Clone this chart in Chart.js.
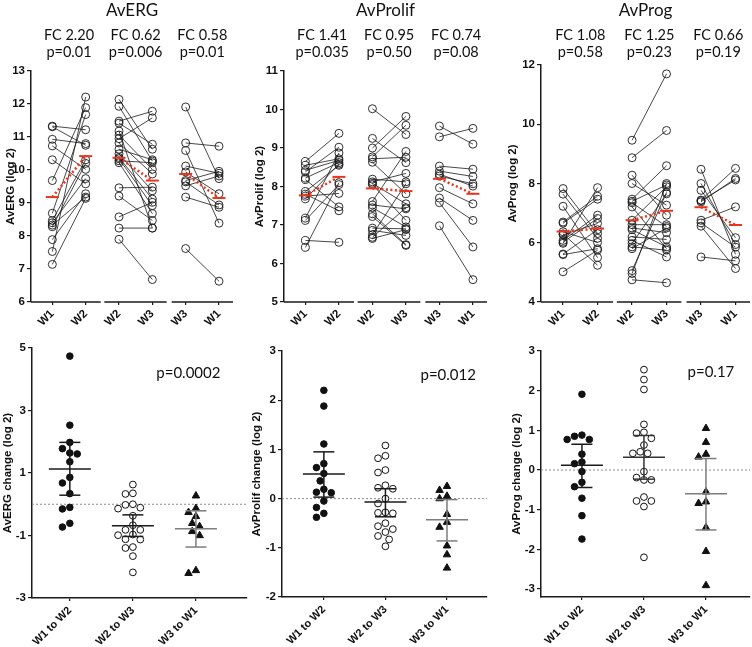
<!DOCTYPE html>
<html lang="en">
<head>
<meta charset="utf-8">
<title>AvERG / AvProlif / AvProg</title>
<script src="https://cdn.jsdelivr.net/npm/chart.js@4.4.1/dist/chart.umd.min.js"></script>
<style>
  body { margin: 0; background: #fff; }
  #fig { position: relative; width: 752px; height: 647px; overflow: hidden; }
  #fig canvas { position: absolute; }
</style>
</head>
<body>
<div id="fig">
  <canvas id="ergTop" width="250" height="340" style="left:0;top:0"></canvas>
  <canvas id="prTop" width="250" height="340" style="left:245px;top:0"></canvas>
  <canvas id="pgTop" width="257" height="340" style="left:495px;top:0"></canvas>
  <canvas id="ergCh" width="250" height="312" style="left:0;top:335px"></canvas>
  <canvas id="prCh" width="250" height="312" style="left:245px;top:335px"></canvas>
  <canvas id="pgCh" width="257" height="312" style="left:495px;top:335px"></canvas>
</div>
<script>
// ---- categories and tick labels
var pairCats = ['W1', 'W2', 'W2', 'W3', 'W3', 'W1'];
var changeCats = ['W1 to W2', 'W2 to W3', 'W3 to W1'];
var ergTicks = [6, 7, 8, 9, 10, 11, 12, 13];
var prTicks = [5, 6, 7, 8, 9, 10, 11];
var pgTicks = [4, 6, 8, 10, 12];
var ergChTicks = [-3, -1, 1, 3, 5];
var prChTicks = [-2, -1, 0, 1, 2, 3];
var pgChTicks = [-3, -2, -1, 0, 1, 2, 3];

// ---- AvERG paired samples (log 2)
var ergW1a = [11.33, 11.31, 10.93, 10.73, 10.31, 9.68, 8.69, 8.47, 8.40, 8.33, 8.28, 7.89, 7.53, 7.14];
var ergW2a = [11.22, 10.75, 10.80, 10.02, 9.58, 11.89, 11.68, 10.31, 9.74, 9.18, 10.20, 9.28, 12.21, 9.14];
var ergW2b = [12.14, 11.93, 11.48, 11.42, 11.18, 10.95, 11.06, 10.82, 10.63, 10.49, 10.38, 10.34, 10.28, 10.22, 9.46, 9.21, 8.58, 8.24, 7.90];
var ergW3b = [10.63, 10.27, 11.78, 10.78, 8.24, 11.58, 10.02, 9.88, 10.31, 9.37, 9.12, 8.92, 10.22, 8.68, 9.48, 8.47, 9.02, 8.24, 6.68];
var ergW3c = [11.91, 10.82, 10.59, 10.12, 9.94, 9.68, 9.64, 9.52, 9.18, 7.62];
var ergW1c = [9.74, 10.72, 8.39, 9.90, 9.28, 9.96, 8.94, 9.82, 8.87, 6.63];
var ergMeans = [9.18, 10.42, 10.37, 9.68, 9.88, 9.15];
var ergFC = ['FC 2.20', 'FC 0.62', 'FC 0.58'];
var ergP = ['p=0.01', 'p=0.006', 'p=0.01'];

// ---- AvProlif paired samples (log 2)
var prW1a = [8.65, 8.55, 8.42, 8.38, 8.22, 8.18, 7.87, 7.80, 7.68, 7.18, 7.12, 6.60, 6.42, 7.75];
var prW2a = [9.38, 8.72, 8.68, 9.02, 8.62, 7.47, 8.55, 7.37, 8.58, 8.87, 8.05, 6.55, 8.10, 7.82];
var prW2b = [10.02, 9.25, 9.00, 8.77, 8.72, 8.63, 8.19, 8.12, 8.08, 8.05, 7.61, 7.52, 7.45, 7.29, 7.22, 6.92, 6.86, 6.75, 6.68, 6.65];
var prW3b = [9.35, 8.62, 9.82, 9.59, 8.76, 7.81, 8.12, 8.34, 7.55, 7.12, 8.91, 7.42, 6.95, 6.49, 6.47, 6.90, 6.73, 8.07, 7.45, 6.88];
var prW3c = [9.57, 9.29, 8.53, 8.40, 8.32, 8.27, 7.97, 7.70, 7.58, 6.98];
var prW1c = [9.10, 9.51, 8.45, 8.26, 8.01, 8.07, 7.55, 7.12, 6.43, 5.58];
var prMeans = [7.77, 8.25, 7.95, 7.88, 8.20, 7.81];
var prFC = ['FC 1.41', 'FC 0.95', 'FC 0.74'];
var prP = ['p=0.035', 'p=0.50', 'p=0.08'];

// ---- AvProg paired samples (log 2)
var pgW1a = [5.98, 6.70, 6.66, 6.08, 6.02, 5.62, 6.27, 5.60, 5.02, 6.30, 6.37, 7.83, 7.64, 7.23];
var pgW2a = [7.86, 7.57, 7.47, 6.93, 6.82, 6.44, 6.65, 5.80, 5.75, 5.24, 6.01, 6.31, 6.15, 5.50];
var pgW2b = [9.46, 8.87, 8.28, 8.00, 7.47, 7.40, 7.35, 7.21, 6.76, 6.61, 6.50, 6.44, 6.20, 6.08, 5.97, 5.86, 5.80, 5.06, 4.96, 4.75];
var pgW3b = [11.70, 9.79, 6.93, 7.27, 8.60, 7.95, 6.55, 5.80, 7.89, 6.61, 6.34, 5.86, 6.11, 5.52, 7.65, 5.75, 6.50, 7.70, 8.00, 4.65];
var pgW3c = [8.48, 8.00, 7.77, 7.44, 7.38, 7.42, 6.76, 6.67, 6.56, 5.52];
var pgW1c = [5.61, 5.94, 6.17, 8.51, 8.17, 8.12, 7.21, 5.85, 5.13, 5.39];
var pgMeans = [6.38, 6.48, 6.76, 7.08, 7.20, 6.60];
var pgFC = ['FC 1.08', 'FC 1.25', 'FC 0.66'];
var pgP = ['p=0.58', 'p=0.23', 'p=0.19'];

// ---- change between visits (log 2)
var ergChW1W2 = [4.74, 2.53, 1.98, 1.78, 1.64, 1.61, 1.36, 0.86, 0.68, 0.34, -0.10, -0.15, -0.61, -0.73];
var ergChW2W3 = [0.63, 0.35, 0.33, 0.00, -0.02, -0.11, -0.14, -0.37, -0.67, -0.82, -0.82, -0.97, -0.99, -1.12, -1.13, -1.37, -1.40, -1.66, -2.18];
var ergChW3W1 = [0.27, -0.13, -0.26, -0.39, -0.61, -0.71, -0.87, -1.00, -2.12, -2.21];
var ergChMean = [1.13, -0.69, -0.78];
var ergChLo = [0.29, -1.03, -1.37];
var ergChHi = [1.98, -0.34, -0.21];

var prChW1W2 = [2.20, 1.88, 1.11, 0.71, 0.63, 0.51, 0.36, 0.19, 0.13, 0.12, -0.05, -0.18, -0.30, -0.38];
var prChW2W3 = [1.08, 0.87, 0.82, 0.58, 0.53, 0.27, 0.22, 0.20, 0.00, -0.10, -0.28, -0.30, -0.29, -0.50, -0.56, -0.62, -0.68, -0.76, -0.83, -0.97];
var prChW3W1 = [0.25, 0.17, 0.05, 0.00, -0.32, -0.48, -0.58, -0.96, -1.14, -1.41];
var prChMean = [0.50, -0.07, -0.43];
var prChLo = [0.03, -0.37, -0.86];
var prChHi = [0.95, 0.20, -0.02];

var pgChW1W2 = [1.91, 0.88, 0.85, 0.77, 0.77, 0.40, 0.20, 0.16, -0.04, -0.31, -0.42, -0.71, -1.15, -1.74];
var pgChW2W3 = [2.53, 2.28, 2.03, 1.15, 0.95, 0.93, 0.80, 0.63, 0.46, 0.42, 0.42, -0.04, -0.19, -0.25, -0.25, -0.68, -0.78, -0.78, -0.92, -2.20];
var pgChW3W1 = [1.05, 0.70, 0.40, 0.33, -0.55, -0.80, -0.84, -1.45, -2.05, -2.91];
var pgChMean = [0.12, 0.32, -0.60];
var pgChLo = [-0.44, -0.23, -1.51];
var pgChHi = [0.65, 0.87, 0.29];

// ---- styling
Chart.defaults.font.family = "'Liberation Sans', Arial, sans-serif";
Chart.defaults.color = '#111';
var TEXT_FONT = "Lato, 'Open Sans', sans-serif";
var RED = '#e8361e';
var INK = '#1a1a1a';
var axisGaps = [[1.45, 1.56], [3.43, 3.58]];

// one line per sample: W(a) -> W(b), null breaks the line between samples
function pairedData(a, b, x0) {
  var pts = [];
  for (var i = 0; i < a.length; i++) {
    pts.push({ x: x0, y: a[i] });
    pts.push({ x: x0 + 1, y: b[i] });
    pts.push({ x: x0 + 0.5, y: null });
  }
  return pts;
}

// spread points sideways so they don't overlap (like a column scatter)
function swarm(vals, cx, pxX, pxY) {
  var D = 7.4, placed = [], out = [];
  var idx = vals.map(function (v, i) { return i; }).sort(function (a, b) { return vals[b] - vals[a]; });
  idx.forEach(function (i) {
    var off = 0;
    for (var k = 0; k < 40; k++) {
      off = (k % 2 ? -1 : 1) * Math.ceil(k / 2) * D / 2;
      var hit = placed.some(function (p) {
        var dx = off - p.off, dy = (vals[i] - p.y) * pxY;
        return dx * dx + dy * dy < D * D;
      });
      if (!hit) break;
    }
    placed.push({ off: off, y: vals[i] });
    out[i] = { x: cx + off / pxX, y: vals[i] };
  });
  return out;
}

function fixedTicks(list) {
  return function (sc) { sc.ticks = list.map(function (v) { return { value: v }; }); };
}

var brokenAxis = {
  id: 'brokenAxis',
  afterDraw: function (chart) {
    var xs = chart.scales.x, ctx = chart.ctx, y = chart.chartArea.bottom;
    var segs = [[xs.min, axisGaps[0][0]], [axisGaps[0][1], axisGaps[1][0]], [axisGaps[1][1], xs.max]];
    ctx.save();
    ctx.strokeStyle = INK;
    ctx.lineWidth = 1.5;
    segs.forEach(function (s) {
      ctx.beginPath();
      ctx.moveTo(xs.getPixelForValue(s[0]), y);
      ctx.lineTo(xs.getPixelForValue(s[1]), y);
      ctx.stroke();
    });
    ctx.restore();
  }
};

var zeroLine = {
  id: 'zeroLine',
  beforeDatasetsDraw: function (chart) {
    var a = chart.chartArea, ctx = chart.ctx, y = chart.scales.y.getPixelForValue(0);
    ctx.save();
    ctx.strokeStyle = '#8c8c8c';
    ctx.lineWidth = 1;
    ctx.setLineDash([2, 2]);
    ctx.beginPath();
    ctx.moveTo(a.left, y);
    ctx.lineTo(a.right, y);
    ctx.stroke();
    ctx.restore();
  }
};

function topChart(id, o) {
  var sets = [];
  for (var s = 0; s < 3; s++) {
    sets.push({
      order: 0, clip: false,
      data: [{ x: 2 * s, y: o.means[2 * s] }, { x: 2 * s + 1, y: o.means[2 * s + 1] }],
      borderColor: RED, borderWidth: 2.5, borderDash: [2, 2.5],
      pointStyle: 'line', pointRadius: 6.5, pointBorderColor: RED, pointBorderWidth: 2
    });
  }
  for (s = 0; s < 3; s++) {
    sets.push({
      order: 1, clip: false, spanGaps: false,
      data: pairedData(o.pairs[s][0], o.pairs[s][1], 2 * s),
      borderColor: INK, borderWidth: 0.8,
      pointStyle: 'circle', pointRadius: 4, pointBorderWidth: 0.9,
      pointBorderColor: INK, pointBackgroundColor: 'rgba(255,255,255,0)'
    });
  }
  var text = {
    id: 'panelText',
    afterDraw: function (chart) {
      var ctx = chart.ctx, a = chart.chartArea, xs = chart.scales.x;
      ctx.save();
      ctx.fillStyle = '#111';
      ctx.textAlign = 'center';
      ctx.textBaseline = 'alphabetic';
      ctx.font = '17px ' + TEXT_FONT;
      ctx.fillText(o.title, (a.left + a.right) / 2, 16);
      ctx.font = '14.5px ' + TEXT_FONT;
      for (var k = 0; k < 3; k++) {
        var cx = xs.getPixelForValue(2 * k + 0.5);
        ctx.fillText(o.fc[k], cx, 40);
        ctx.fillText(o.p[k], cx, 57);
      }
      ctx.restore();
    }
  };
  return new Chart(document.getElementById(id), {
    type: 'line',
    data: { datasets: sets },
    options: {
      responsive: false,
      animation: false,
      events: [],
      layout: { autoPadding: false, padding: { left: o.pad[0], right: o.pad[1], top: o.pad[2], bottom: 0 } },
      plugins: { legend: { display: false }, tooltip: { enabled: false } },
      scales: {
        x: {
          type: 'linear', min: -0.64, max: 5.42,
          afterBuildTicks: fixedTicks([0, 1, 2, 3, 4, 5]),
          afterFit: function (sc) { sc.height = 38; },
          border: { display: false },
          grid: { drawOnChartArea: false, color: INK, lineWidth: 1.2, tickLength: 3 },
          ticks: {
            autoSkip: false, minRotation: 45, maxRotation: 45, padding: 2,
            font: { size: 11.5, weight: 'bold' },
            callback: function (v) { return pairCats[v]; }
          }
        },
        y: {
          type: 'linear', min: o.ticks[0], max: o.ticks[o.ticks.length - 1],
          afterBuildTicks: fixedTicks(o.ticks),
          afterFit: function (sc) { sc.width = o.yWidth; },
          border: { color: INK, width: 1.5 },
          grid: { drawOnChartArea: false, color: INK, lineWidth: 1.2, tickLength: 4 },
          ticks: { padding: 2, font: { size: 11.5, weight: 'bold' } },
          title: { display: true, text: o.yTitle, font: { size: 11.5, weight: 'bold' }, padding: { top: 4, bottom: 0 } }
        }
      }
    },
    plugins: [text, brokenAxis]
  });
}

function changeChart(id, o) {
  var sets = [];
  for (var c = 0; c < 3; c++) {
    var col = o.barColors[c];
    sets.push({
      order: 0, clip: false,
      data: [{ x: c, y: o.lo[c] }, { x: c, y: o.hi[c] }],
      borderColor: col, borderWidth: 1.5,
      pointStyle: 'line', pointRadius: 10.5, pointBorderColor: col, pointBorderWidth: 1.5
    });
    sets.push({
      order: 0, clip: false, showLine: false,
      data: [{ x: c, y: o.mean[c] }],
      pointStyle: 'line', pointRadius: 21, pointBorderColor: col, pointBorderWidth: 1.5
    });
  }
  var marks = [
    { pointStyle: 'circle', pointRadius: 3.3, pointBackgroundColor: '#111', pointBorderColor: '#111', pointBorderWidth: 1 },
    { pointStyle: 'circle', pointRadius: 3.4, pointBackgroundColor: '#fff', pointBorderColor: '#111', pointBorderWidth: 1 },
    { pointStyle: 'triangle', pointRadius: 4.3, pointBackgroundColor: '#111', pointBorderColor: '#111', pointBorderWidth: 1 }
  ];
  for (c = 0; c < 3; c++) {
    sets.push(Object.assign({
      order: 1, clip: false, showLine: false,
      data: swarm(o.values[c], c, o.pxX, o.pxY)
    }, marks[c]));
  }
  var text = {
    id: 'pText',
    afterDraw: function (chart) {
      var ctx = chart.ctx;
      ctx.save();
      ctx.fillStyle = '#111';
      ctx.textAlign = 'center';
      ctx.textBaseline = 'middle';
      ctx.font = '15px ' + TEXT_FONT;
      ctx.fillText(o.pText, chart.scales.x.getPixelForValue(o.pAt[0]), chart.scales.y.getPixelForValue(o.pAt[1]));
      ctx.restore();
    }
  };
  return new Chart(document.getElementById(id), {
    type: 'line',
    data: { datasets: sets },
    options: {
      responsive: false,
      animation: false,
      events: [],
      layout: { autoPadding: false, padding: { left: o.pad[0], right: o.pad[1], top: o.pad[2], bottom: 0 } },
      plugins: { legend: { display: false }, tooltip: { enabled: false } },
      scales: {
        x: {
          type: 'linear', min: o.xRange[0], max: o.xRange[1],
          afterBuildTicks: fixedTicks([0, 1, 2]),
          afterFit: function (sc) { sc.height = o.xHeight; },
          border: { color: INK, width: 1.5 },
          grid: { drawOnChartArea: false, color: INK, lineWidth: 1.2, tickLength: 3 },
          ticks: {
            autoSkip: false, minRotation: 45, maxRotation: 45, padding: 3,
            font: { size: 11, weight: 'bold' },
            callback: function (v) { return changeCats[v]; }
          }
        },
        y: {
          type: 'linear', min: o.yRange[0], max: o.yRange[1],
          afterBuildTicks: fixedTicks(o.ticks),
          afterFit: function (sc) { sc.width = o.yWidth; },
          border: { color: INK, width: 1.5 },
          grid: { drawOnChartArea: false, color: INK, lineWidth: 1.2, tickLength: 4 },
          ticks: { padding: 2, font: { size: 11.5, weight: 'bold' } },
          title: { display: true, text: o.yTitle, font: { size: 11.5, weight: 'bold' }, padding: { top: 1, bottom: 0 } }
        }
      }
    },
    plugins: [zeroLine, text]
  });
}

// ---- top row: paired values per visit
topChart('ergTop', {
  title: 'AvERG', fc: ergFC, p: ergP, yTitle: 'AvERG (log 2)', ticks: ergTicks,
  means: ergMeans, pairs: [[ergW1a, ergW2a], [ergW2b, ergW3b], [ergW3c, ergW1c]],
  pad: [0, 17, 71], yWidth: 31
});
topChart('prTop', {
  title: 'AvProlif', fc: prFC, p: prP, yTitle: 'AvProlif (log 2)', ticks: prTicks,
  means: prMeans, pairs: [[prW1a, prW2a], [prW2b, prW3b], [prW3c, prW1c]],
  pad: [4, 8, 71], yWidth: 35
});
topChart('pgTop', {
  title: 'AvProg', fc: pgFC, p: pgP, yTitle: 'AvProg (log 2)', ticks: pgTicks,
  means: pgMeans, pairs: [[pgW1a, pgW2a], [pgW2b, pgW3b], [pgW3c, pgW1c]],
  pad: [7, 2, 65], yWidth: 39
});

// ---- bottom row: change between visits, mean with 95% CI
changeChart('ergCh', {
  yTitle: 'AvERG change (log 2)', ticks: ergChTicks, yRange: [-3, 5], xRange: [-0.6, 2.81],
  values: [ergChW1W2, ergChW2W3, ergChW3W1], mean: ergChMean, lo: ergChLo, hi: ergChHi,
  barColors: ['#1a1a1a', '#1a1a1a', '#7d7d7d'], pText: 'p=0.0002', pAt: [1.88, 4.2],
  pad: [0, 3, 13], yWidth: 32, xHeight: 49, pxX: 63, pxY: 31.25
});
changeChart('prCh', {
  yTitle: 'AvProlif change (log 2)', ticks: prChTicks, yRange: [-2, 3], xRange: [-0.68, 2.65],
  values: [prChW1W2, prChW2W3, prChW3W1], mean: prChMean, lo: prChLo, hi: prChHi,
  barColors: ['#1a1a1a', '#1a1a1a', '#7d7d7d'], pText: 'p=0.012', pAt: [2.02, 2.51],
  pad: [4, 8, 16], yWidth: 33, xHeight: 50, pxX: 61.5, pxY: 49.2
});
changeChart('pgCh', {
  yTitle: 'AvProg change (log 2)', ticks: pgChTicks, yRange: [-3.2, 3], xRange: [-0.66, 2.71],
  values: [pgChW1W2, pgChW2W3, pgChW3W1], mean: pgChMean, lo: pgChLo, hi: pgChHi,
  barColors: ['#1a1a1a', '#333333', '#7d7d7d'], pText: 'p=0.17', pAt: [2.08, 2.46],
  pad: [14, 2, 16], yWidth: 32, xHeight: 50, pxX: 62, pxY: 39.7
});
console.log('charts drawn');
</script>
</body>
</html>
